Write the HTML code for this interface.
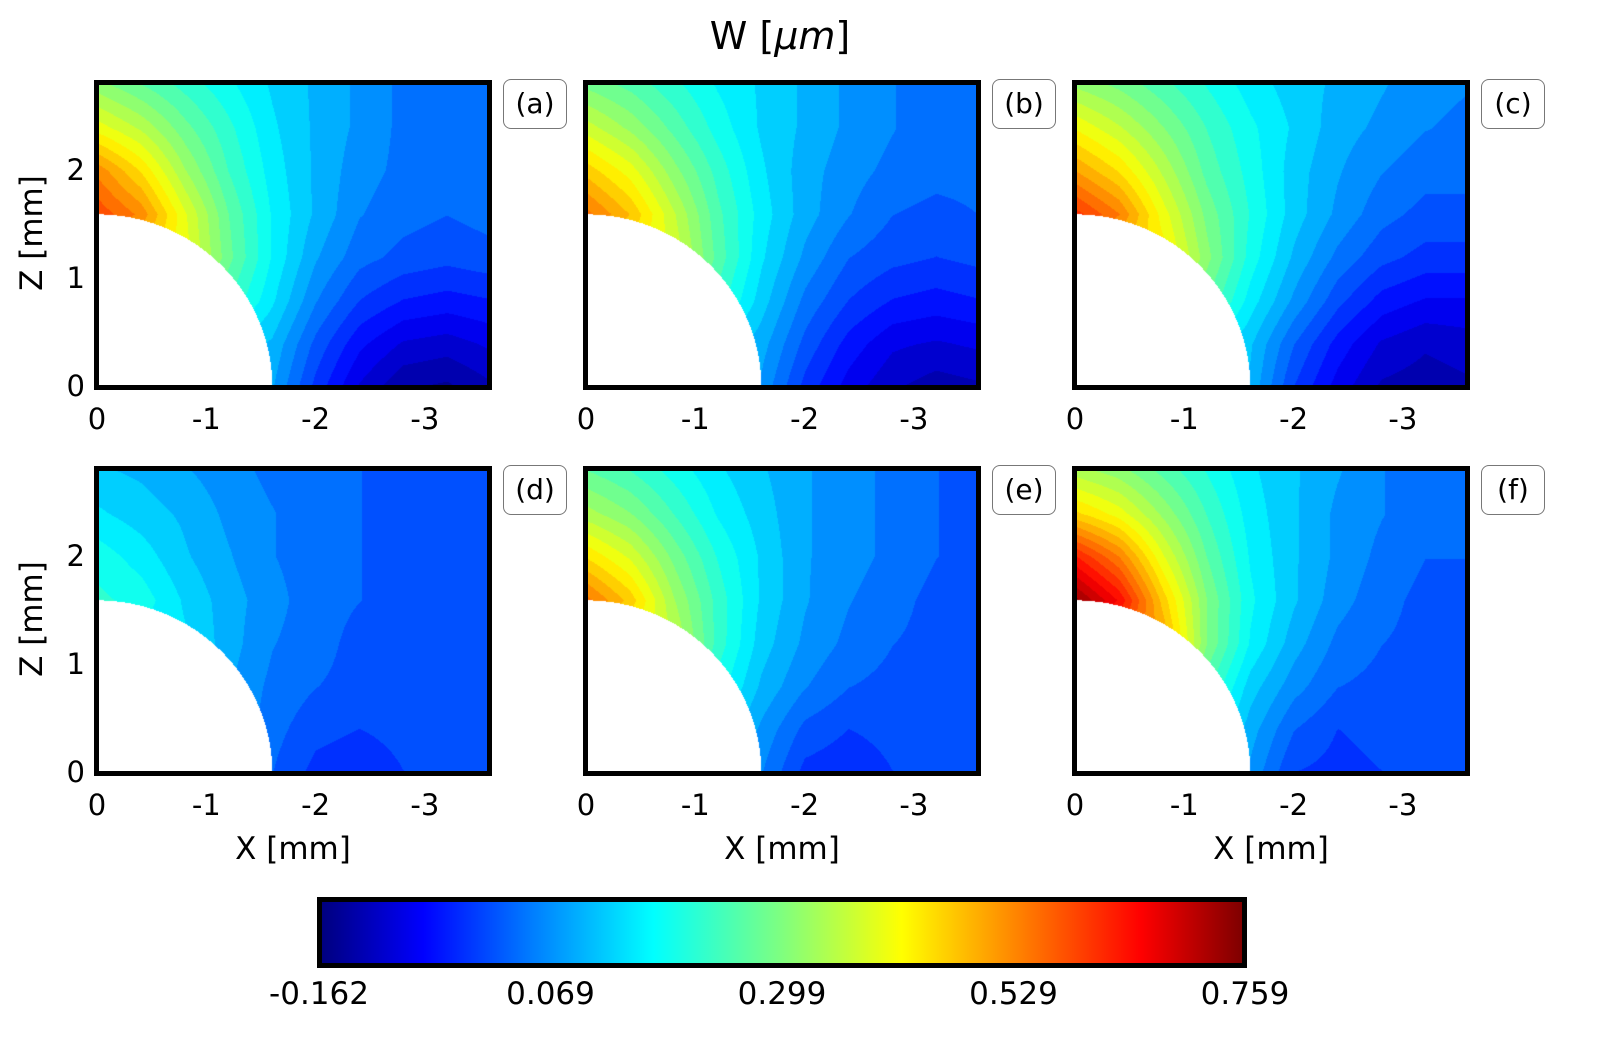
<!DOCTYPE html>
<html><head><meta charset="utf-8">
<style>
body{margin:0;background:#fff;width:1600px;height:1048px;position:relative;overflow:hidden;font-family:"DejaVu Sans","Liberation Sans",sans-serif;color:#000}
.abs{position:absolute}
canvas{position:absolute}
.frame{position:absolute;border:5px solid #000;box-sizing:border-box}
.tick{position:absolute;font-size:29px;line-height:30px}
.lab{position:absolute;border:1.5px solid #777;border-radius:8px;background:#fff;font-size:28px;width:64px;height:50px;line-height:48px;text-align:center;box-sizing:border-box}
.ttl{position:absolute;font-size:31px}
</style></head><body>
<div class="abs" style="left:0;width:1560px;top:14px;text-align:center;font-size:38px">W [<i>μm</i>]</div>
<div id="root"></div>
<div class="abs" style="left:317px;top:897px;width:930px;height:71px;box-sizing:border-box;border:5px solid #000;background:linear-gradient(to right,#00007f 0%,#0000ff 11%,#007fff 23%,#00ffff 36%,#7fff7f 50%,#ffff00 63%,#ff7f00 76%,#ff0000 89%,#7f0000 100%)"></div>
<script>
const xTicks=[0,-1,-2,-3];
const zTicks=[0,1,2];
const cbTicks=["-0.162","0.069","0.299","0.529","0.759"];
const vMin=-0.162, vMax=0.759;
const panelLabels=["(a)","(b)","(c)","(d)","(e)","(f)"];
// grid: rows z=2.8..0 step 0.4 (top to bottom), cols x=0..-3.6 step 0.4
const fieldA=[
[0.31,0.27,0.23,0.19,0.15,0.12,0.09,0.06,0.04,0.04],
[0.40,0.35,0.28,0.22,0.16,0.12,0.09,0.06,0.04,0.04],
[0.52,0.44,0.33,0.24,0.17,0.12,0.08,0.06,0.04,0.04],
[0.58,0.52,0.39,0.27,0.18,0.12,0.07,0.05,0.04,0.05],
[0.45,0.45,0.40,0.28,0.18,0.10,0.05,0.03,0.02,0.03],
[0.30,0.30,0.30,0.24,0.16,0.07,0.01,-0.02,-0.03,-0.02],
[0.15,0.15,0.15,0.15,0.12,0.03,-0.04,-0.08,-0.09,-0.07],
[0.10,0.10,0.10,0.10,0.10,0.00,-0.08,-0.13,-0.14,-0.11]];
const fieldB=[
[0.29,0.26,0.22,0.18,0.15,0.12,0.09,0.07,0.05,0.05],
[0.37,0.32,0.26,0.20,0.15,0.12,0.09,0.07,0.05,0.05],
[0.46,0.40,0.31,0.23,0.16,0.11,0.08,0.06,0.05,0.05],
[0.54,0.47,0.36,0.25,0.17,0.11,0.07,0.04,0.03,0.04],
[0.42,0.42,0.38,0.26,0.16,0.09,0.04,0.02,0.01,0.02],
[0.30,0.30,0.30,0.23,0.14,0.06,0.01,-0.02,-0.03,-0.02],
[0.15,0.15,0.15,0.15,0.11,0.03,-0.03,-0.07,-0.08,-0.07],
[0.10,0.10,0.10,0.10,0.09,0.00,-0.06,-0.10,-0.12,-0.11]];
const fieldC=[
[0.32,0.29,0.25,0.21,0.17,0.14,0.12,0.10,0.08,0.07],
[0.41,0.36,0.30,0.24,0.19,0.15,0.11,0.09,0.07,0.06],
[0.50,0.44,0.35,0.26,0.20,0.14,0.10,0.07,0.05,0.05],
[0.60,0.53,0.40,0.29,0.21,0.14,0.09,0.05,0.03,0.03],
[0.45,0.45,0.43,0.31,0.20,0.12,0.06,0.02,0.00,0.00],
[0.32,0.32,0.32,0.27,0.17,0.09,0.02,-0.03,-0.05,-0.05],
[0.18,0.18,0.18,0.18,0.13,0.04,-0.03,-0.08,-0.10,-0.09],
[0.12,0.12,0.12,0.12,0.12,0.01,-0.06,-0.11,-0.12,-0.11]];
const fieldD=[
[0.13,0.12,0.10,0.08,0.06,0.05,0.04,0.03,0.02,0.02],
[0.16,0.14,0.12,0.09,0.07,0.05,0.04,0.03,0.02,0.02],
[0.20,0.17,0.13,0.10,0.07,0.05,0.04,0.03,0.02,0.02],
[0.22,0.20,0.15,0.11,0.08,0.05,0.04,0.03,0.02,0.03],
[0.17,0.17,0.16,0.11,0.07,0.05,0.03,0.02,0.02,0.03],
[0.13,0.13,0.13,0.10,0.06,0.04,0.03,0.02,0.02,0.03],
[0.10,0.10,0.10,0.10,0.05,0.02,0.01,0.02,0.02,0.03],
[0.08,0.08,0.08,0.08,0.04,0.00,-0.01,0.01,0.02,0.03]];
const fieldE=[
[0.27,0.24,0.20,0.16,0.13,0.10,0.08,0.06,0.04,0.03],
[0.34,0.30,0.24,0.18,0.14,0.10,0.08,0.06,0.04,0.03],
[0.44,0.38,0.29,0.21,0.15,0.10,0.08,0.06,0.04,0.03],
[0.54,0.46,0.33,0.23,0.15,0.10,0.07,0.05,0.03,0.03],
[0.40,0.40,0.36,0.23,0.14,0.09,0.06,0.04,0.03,0.03],
[0.28,0.28,0.28,0.20,0.12,0.07,0.04,0.03,0.03,0.04],
[0.16,0.16,0.16,0.16,0.09,0.03,0.01,0.02,0.03,0.04],
[0.11,0.11,0.11,0.11,0.07,0.00,-0.01,0.01,0.02,0.03]];
const fieldF=[
[0.34,0.31,0.26,0.21,0.16,0.13,0.10,0.07,0.05,0.04],
[0.45,0.40,0.32,0.24,0.17,0.13,0.09,0.07,0.05,0.04],
[0.62,0.53,0.39,0.27,0.18,0.13,0.09,0.06,0.04,0.04],
[0.74,0.64,0.46,0.30,0.19,0.13,0.08,0.05,0.03,0.03],
[0.55,0.55,0.50,0.30,0.18,0.11,0.06,0.04,0.03,0.03],
[0.38,0.38,0.38,0.25,0.14,0.08,0.04,0.03,0.03,0.04],
[0.20,0.20,0.20,0.20,0.11,0.04,0.01,0.02,0.03,0.04],
[0.13,0.13,0.13,0.13,0.09,0.01,0.00,0.01,0.02,0.03]];
const fields=[fieldA,fieldB,fieldC,fieldD,fieldE,fieldF];

const panelLefts=[97,586,1075], panelTops=[83,469];
const PW=392, PH=304, SX=109.3, SZ=108.2, R=1.6, STEP=0.4, NLEV=32;
const root=document.getElementById('root');
function clamp(v){return Math.max(0,Math.min(1,v));}
function jet(t){return [clamp(1.5-Math.abs(4*t-3)),clamp(1.5-Math.abs(4*t-2)),clamp(1.5-Math.abs(4*t-1))];}
function sample(F,x,z){
  const nr=F.length,nc=F[0].length;
  let ci=Math.min(nc-1.0001,Math.max(0,-x/STEP));
  let ri=Math.min(nr-1.0001,Math.max(0,(2.8-z)/STEP));
  const c0=Math.floor(ci),r0=Math.floor(ri),fc=ci-c0,fr=ri-r0;
  const a=F[r0][c0],b=F[r0][c0+1],c=F[r0+1][c0],d=F[r0+1][c0+1];
  return (a*(1-fc)+b*fc)*(1-fr)+(c*(1-fc)+d*fc)*fr;
}
function mk(tag,cls,name,inter){const e=document.createElement(tag);if(cls)e.className=cls;


root.appendChild(e);return e;}
fields.forEach((F,i)=>{
  const L=panelLefts[i%3],T=panelTops[Math.floor(i/3)];
  const xPx=x=>L+(-x)*SX, zPx=z=>T+PH-z*SZ;
  const cv=mk('canvas','', 'contour-panel-'+'abcdef'[i],'false');
  cv.width=PW;cv.height=PH;cv.style.left=L+'px';cv.style.top=T+'px';
  const ctx=cv.getContext('2d');const img=ctx.createImageData(PW,PH);
  for(let py=0;py<PH;py++)for(let px=0;px<PW;px++){
    const x=-px/SX,z=(PH-py)/SZ;const k=(py*PW+px)*4;
    if(x*x+z*z<R*R){img.data[k]=img.data[k+1]=img.data[k+2]=255;img.data[k+3]=255;continue;}
    let t=(sample(F,x,z)-vMin)/(vMax-vMin);
    t=(Math.floor(clamp(t)*NLEV)+0.5)/NLEV;
    const c=jet(t);img.data[k]=c[0]*255;img.data[k+1]=c[1]*255;img.data[k+2]=c[2]*255;img.data[k+3]=255;
  }
  ctx.putImageData(img,0,0);
  const fr=mk('div','frame','panel-frame-'+'abcdef'[i],'false');
  fr.style.left=(L-3)+'px';fr.style.top=(T-3)+'px';fr.style.width=(PW+6)+'px';fr.style.height=(PH+6)+'px';
  const lb=mk('div','lab','panel-label-'+'abcdef'[i],'false');
  lb.textContent=panelLabels[i];lb.style.left=(L+406)+'px';lb.style.top=(T-4)+'px';
  xTicks.forEach(v=>{const t=mk('div','tick','x-tick-label','false');t.textContent=v;
    t.style.left=(xPx(v)-30)+'px';t.style.width='60px';t.style.textAlign='center';t.style.top=(T+PH+17)+'px';});
  if(i%3===0){
    zTicks.forEach(v=>{const t=mk('div','tick','y-tick-label','false');t.textContent=v;
      t.style.left=(L-60)+'px';t.style.width='48px';t.style.textAlign='right';t.style.top=(zPx(v)-16)+'px';});
    const yt=mk('div','ttl','y-axis-title','false');yt.textContent='Z [mm]';
    yt.style.left=(L-135)+'px';yt.style.top=(T+PH/2-20)+'px';yt.style.width='140px';yt.style.textAlign='center';yt.style.transform='rotate(-90deg)';
  }
  if(i>=3){
    const xt=mk('div','ttl','x-axis-title','false');xt.textContent='X [mm]';
    xt.style.left=(L+196-100)+'px';xt.style.width='200px';xt.style.textAlign='center';xt.style.top=(T+PH+58)+'px';
  }
});
const cbL=319,cbW=926;
cbTicks.forEach((s,j)=>{const t=mk('div','tick','colorbar-tick-label','false');t.textContent=s;
  const x=cbL+cbW*j/(cbTicks.length-1);t.style.left=(x-80)+'px';t.style.width='160px';t.style.textAlign='center';t.style.top='979px';t.style.fontSize='31px';});
</script>
</body></html>
